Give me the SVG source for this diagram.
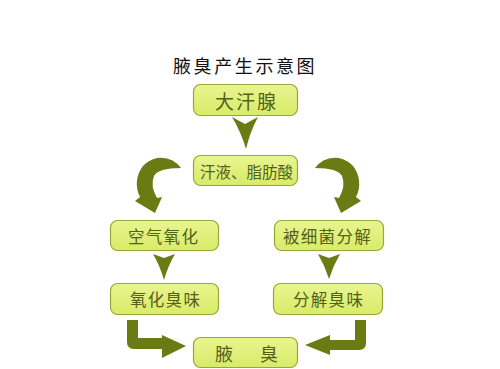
<svg xmlns="http://www.w3.org/2000/svg" width="500" height="369" viewBox="0 0 500 369">
<style>
.box{fill:url(#g);stroke:#98a838;stroke-width:1.2}
.t{font-family:"Noto Sans CJK SC","Noto Sans CJK JP",sans-serif;fill:#55601a;dominant-baseline:central}
.arr{fill:#6b7b14}
</style>
<defs>
<linearGradient id="g" x1="0" y1="0" x2="0" y2="1">
<stop offset="0" stop-color="#e8f590"/>
<stop offset="1" stop-color="#d8eb68"/>
</linearGradient>
</defs>
<rect width="500" height="369" fill="#ffffff"/>
<text x="173" y="65" font-family="'Noto Sans CJK SC',sans-serif" font-size="18" letter-spacing="2.6" fill="#111" dominant-baseline="central">腋臭产生示意图</text>
<g id="n1"><rect class="box" x="193.5" y="84.5" width="104" height="31" rx="7"/><text class="t" x="215" y="100" font-size="19" letter-spacing="2">大汗腺</text></g>
<g id="n2"><rect class="box" x="193.5" y="155.5" width="104" height="30" rx="7"/><text class="t" x="200" y="170.5" font-size="15.5">汗液、脂肪酸</text></g>
<g id="n3"><rect class="box" x="110.5" y="220.5" width="108" height="30" rx="7"/><text class="t" x="128" y="235.5" font-size="16.5" letter-spacing="1.3">空气氧化</text></g>
<g id="n4"><rect class="box" x="274.5" y="220.5" width="109" height="30" rx="7"/><text class="t" x="283" y="235.5" font-size="16.5" letter-spacing="1.3">被细菌分解</text></g>
<g id="n5"><rect class="box" x="110.5" y="283.5" width="108" height="31" rx="7"/><text class="t" x="130" y="299" font-size="16.5" letter-spacing="1.3">氧化臭味</text></g>
<g id="n6"><rect class="box" x="273.5" y="283.5" width="109" height="31" rx="7"/><text class="t" x="293" y="299" font-size="16.5" letter-spacing="1.3">分解臭味</text></g>
<g id="n7"><rect class="box" x="193.5" y="337.5" width="104" height="30" rx="7"/><text class="t" x="215" y="352.5" font-size="18" letter-spacing="4.5">腋　臭</text></g>
<g id="connectors">
<path class="arr" d="M232 117 L245 124 L258 117 Q250 132 246 149 Q241 132 232 117 Z"/>
<path class="arr" d="M153 254 L164 258 L175 254 Q168 266 164 280 Q160 266 153 254 Z"/>
<path class="arr" d="M318 254 L329 258 L340 254 Q333 266 329 279 Q325 266 318 254 Z"/>
<path class="arr" d="M181 168 Q172 156 157 158 Q140 162 137 180 Q136 190 140 197 L135 201 L155 213 L162 197 L157 198 Q150 186 154 176 Q158 168 181 168 Z"/>
<path class="arr" d="M315 168 Q324 156 339 158 Q356 162 359 180 Q360 190 356 197 L361 201 L341 213 L334 197 L339 198 Q346 186 342 176 Q338 168 315 168 Z"/>
<path class="arr" d="M127 320 L138 320 L138 338 L162 338 L162 335 L186 346 L162 358 L162 349 L134 349 Q127 349 127 342 Z"/>
<path class="arr" d="M366 320 L355 320 L355 340 L330 340 L330 335 L305 345 L330 355 L330 350 L359 350 Q366 350 366 343 Z"/>
</g>
</svg>
